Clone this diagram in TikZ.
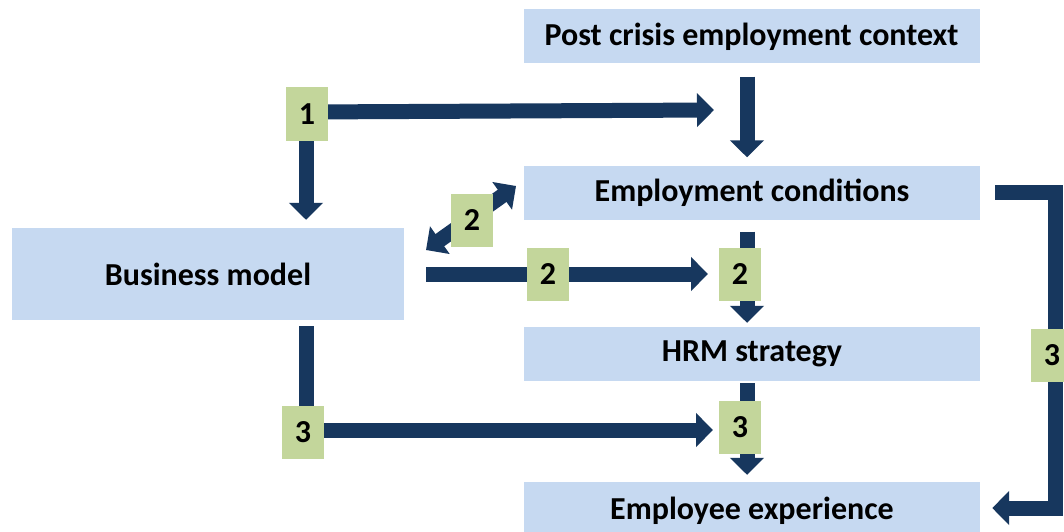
\documentclass[tikz,border=0pt]{standalone}
\usepackage{fontspec}
\setmainfont{Carlito}
\usetikzlibrary{arrows.meta}
\definecolor{boxblue}{HTML}{C6D9F1}
\definecolor{tagGreen}{HTML}{C3D69B}
\definecolor{navy}{HTML}{17375E}
\tikzset{
  stage/.style={fill=boxblue, minimum width=456pt, minimum height=54pt, inner sep=0pt,
    font=\fontsize{32}{38}\selectfont\bfseries},
  tag/.style={fill=tagGreen, minimum width=42pt, minimum height=53pt, inner sep=0pt,
    font=\fontsize{32}{38}\selectfont\bfseries},
  flow/.style={draw=navy, line width=15pt,
    -{Triangle[width=33pt,length=17pt]}},
  twoway/.style={draw=navy, line width=15pt,
    {Triangle[width=33pt,length=17pt]}-{Triangle[width=33pt,length=17pt]}},
}
\begin{document}
\begin{tikzpicture}[x=1pt,y=-1pt]
\clip (0,0) rectangle (1064,532);
\fill[white] (0,0) rectangle (1064,532);

% boxes
\node[stage] (post) at (751.5,36.5) {Post crisis employment context};
\node[stage] (cond) at (752,192.5) {Employment conditions};
\node[stage, minimum width=392pt, minimum height=92pt] (biz) at (208,274) {Business model};
\node[stage] (hrm) at (752,354) {HRM strategy};
\node[stage, minimum height=58pt] (exp) at (752,511) {Employee experience};

% free ends and bends
\coordinate (toCond) at (714,110);
\coordinate (dA) at (426,250);
\coordinate (dB) at (516,186);
\coordinate (rbend) at (1055,355);

% connectors
\draw[flow, shorten <=13pt, shorten >=8pt] (post.south -| 747,0) -- (cond.north -| 747,0);
\draw[flow] (307,112) -- (toCond);
\draw[flow, shorten >=8pt] (306,114) -- (biz.north -| 306,0);
\draw[twoway] (dA) -- (dB);
\draw[flow, shorten <=22pt, shorten >=11pt] (biz.east) -- (719,274);
\draw[flow, shorten <=12pt, shorten >=4pt] (cond.south -| 747,0) -- (hrm.north -| 747,0);
\draw[flow, shorten <=6pt, shorten >=6pt] (biz.south -| 306,0) |- (719,430);
\draw[flow, shorten <=2pt, shorten >=7pt] (hrm.south -| 747,0) -- (exp.north -| 747,0);
\draw[flow, shorten <=15pt, shorten >=12pt] (cond.east) -| (rbend) |- (exp.east |- 0,508);

% step tags
\node[tag] (t1) at (307,114) {1};
\node[tag] (t2a) at (472,220) {2};
\node[tag] (t2b) at (548,274) {2};
\node[tag] (t2c) at (740,274) {2};
\node[tag] (t3a) at (303,432) {3};
\node[tag] (t3b) at (740,427) {3};
\node[tag] (t3c) at (1052,355) {3};
\end{tikzpicture}
\end{document}
